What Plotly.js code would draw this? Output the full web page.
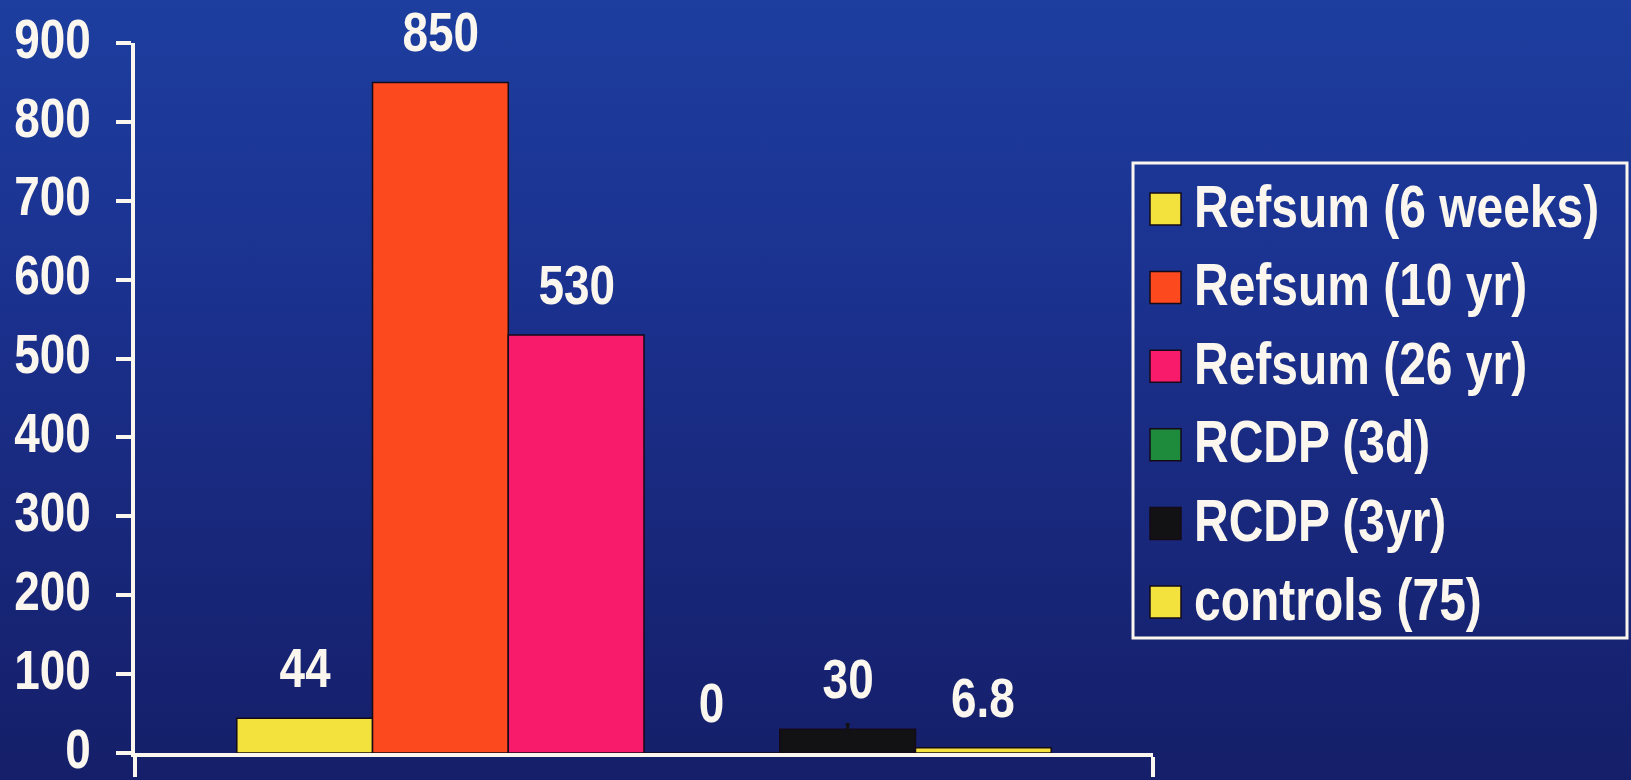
<!DOCTYPE html>
<html>
<head>
<meta charset="utf-8">
<script src="https://cdn.plot.ly/plotly-3.0.1.min.js"></script>
<style>
  html, body { margin: 0; padding: 0; width: 1631px; height: 780px; overflow: hidden; }
  body { background: linear-gradient(180deg, #1d3e9f 0%, #1b3290 35%, #18277a 70%, #151f69 100%); }
  #chart { width: 1631px; height: 780px; }
</style>
</head>
<body>
<div id="chart"></div>
<script>
// Series shown as grouped bars within one category
const seriesNames = ['Refsum (6 weeks)', 'Refsum (10 yr)', 'Refsum (26 yr)', 'RCDP (3d)', 'RCDP (3yr)', 'controls (75)'];
const seriesValues = [44, 850, 530, 0, 30, 6.8];
const seriesSpread = [0, 0, 0, 0, 6, 0];
const seriesColors = ['#f3e23e', '#fc4a1e', '#f81b6b', '#1d8a3c', '#121214', '#f3e23e'];
const groupName = ['group'];
const yTicks = [0, 100, 200, 300, 400, 500, 600, 700, 800, 900];

const FONT = '"Liberation Sans", Arial, sans-serif';
const NARROW = 0.82;          // horizontal squeeze giving a narrow bold face
const TEXT = '#fbf7ee';
const BARGAP = 0.2;

const W = 1631, H = 780;
const M = { l: 135, r: 478, t: 43, b: 27 };
const plotW = W - M.l - M.r, plotH = H - M.t - M.b;

const traces = seriesNames.map((name, i) => {
  const t = {
    type: 'bar',
    name: name,
    x: groupName,
    y: [seriesValues[i]],
    marker: { color: seriesColors[i], line: { color: '#140a18', width: 1.5 } },
    showlegend: false,
    hoverinfo: 'skip'
  };
  if (seriesSpread[i] > 0) {
    t.error_y = { type: 'data', array: [seriesSpread[i]], visible: true, color: '#121214', thickness: 3, width: 2 };
  }
  return t;
});

// Value labels above each bar, placed at the grouped bar centres
const n = seriesNames.length;
const slot = (1 - BARGAP) / n;
const valueLabels = seriesValues.map((v, i) => ({
  xref: 'x', yref: 'y',
  x: -(1 - BARGAP) / 2 + slot * (i + 0.5),
  y: v,
  text: String(v),
  showarrow: false,
  yanchor: 'bottom',
  height: 50,
  yshift: 24,
  font: { family: FONT, size: 56, color: TEXT, weight: 'bold' }
}));

// Legend box drawn in paper space (paper spans the plotting area)
const px = v => (v - M.l) / plotW;
const py = v => (H - M.b - v) / plotH;
const legL = 1133, legR = 1627, legT = 163, legB = 638;
const rowTop = 193, rowStep = 78.6, sw = 31, sh = 32, swL = 1150, txtL = 1192;

const shapes = [{
  type: 'rect', xref: 'paper', yref: 'paper',
  x0: px(legL), x1: px(legR), y0: py(legB), y1: py(legT),
  line: { color: TEXT, width: 3 }, fillcolor: 'rgba(0,0,0,0)'
}];
const legendText = [];
seriesNames.forEach((name, i) => {
  const top = rowTop + i * rowStep;
  shapes.push({
    type: 'rect', xref: 'paper', yref: 'paper',
    x0: px(swL), x1: px(swL + sw), y0: py(top + sh), y1: py(top),
    fillcolor: seriesColors[i], line: { color: '#140a18', width: 1.5 }
  });
  legendText.push({
    xref: 'paper', yref: 'paper',
    x: px(txtL), y: py(top + sh / 2 - 3),
    xanchor: 'left', yanchor: 'middle', align: 'left',
    text: name, showarrow: false,
    font: { family: FONT, size: 58.5, color: TEXT, weight: 'bold' }
  });
});

const layout = {
  width: W, height: H,
  margin: { l: M.l, r: M.r, t: M.t, b: M.b, pad: 0 },
  paper_bgcolor: 'rgba(0,0,0,0)',
  plot_bgcolor: 'rgba(0,0,0,0)',
  barmode: 'group',
  bargap: BARGAP,
  bargroupgap: 0,
  showlegend: false,
  font: { family: FONT, color: TEXT, weight: 'bold' },
  xaxis: {
    type: 'category',
    showline: true, linecolor: TEXT, linewidth: 4,
    ticks: 'outside', tickson: 'boundaries', ticklen: 20, tickwidth: 4, tickcolor: TEXT,
    showticklabels: false, showgrid: false, zeroline: false, fixedrange: true
  },
  yaxis: {
    range: [0, 900],
    tickvals: yTicks,
    ticktext: yTicks.map(String),
    showline: true, linecolor: TEXT, linewidth: 4,
    ticks: 'outside', ticklen: 15, tickwidth: 4, tickcolor: TEXT,
    tickfont: { family: FONT, size: 56, color: TEXT, weight: 'bold' },
    ticklabelstandoff: 14,
    ticklabelshift: -5,
    ticklabeloverflow: 'allow',
    showgrid: false, zeroline: false, fixedrange: true
  },
  shapes: shapes,
  annotations: valueLabels.concat(legendText)
};

// Squeeze each text horizontally about its own anchor point
function narrowText(gd) {
  gd.querySelectorAll('g.ytick text, text.annotation-text').forEach(el => {
    const ax = parseFloat(el.getAttribute('x')) || 0;
    const prev = el.getAttribute('transform') || '';
    el.setAttribute('transform', prev + ' translate(' + ax + ',0) scale(' + NARROW + ',1) translate(' + (-ax) + ',0)');
  });
}

Plotly.newPlot('chart', traces, layout, { displayModeBar: false, staticPlot: true })
  .then(gd => narrowText(gd));
</script>
</body>
</html>
